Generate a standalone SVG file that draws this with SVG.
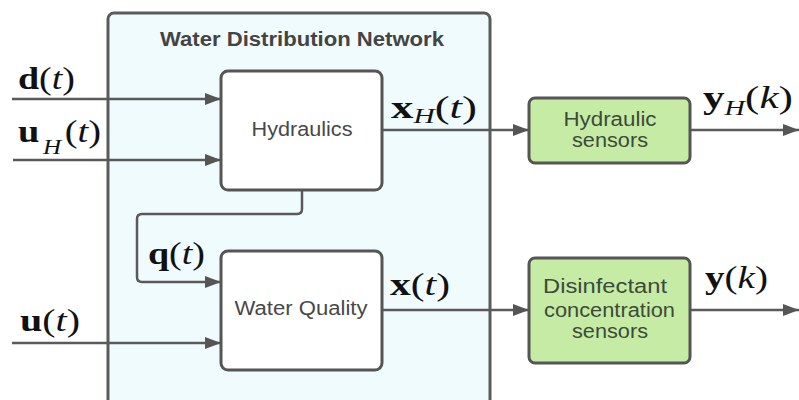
<svg xmlns="http://www.w3.org/2000/svg" width="799" height="400" viewBox="0 0 799 400">
<defs>
<marker id="arr" viewBox="0 0 16 12" refX="16" refY="6" markerWidth="16" markerHeight="12" markerUnits="userSpaceOnUse" orient="auto">
<path d="M0,0 L16,6 L0,12 Z" fill="#555"/>
</marker>
<style>
.wire{fill:none;stroke:#5a5a5a;stroke-width:2.5;stroke-linejoin:round}
.blk{fill:#fff;stroke:#555;stroke-width:3}
.sen{fill:#c6eba4;stroke:#555;stroke-width:3}
.lbl{font-family:"Liberation Sans",Arial,sans-serif;font-size:20px;fill:#484848;text-anchor:middle}
.slbl{font-family:"Liberation Sans",Arial,sans-serif;font-size:20px;fill:#3d4a3a;text-anchor:middle}
.math{font-family:"Liberation Serif","Times New Roman",serif;font-size:32px;fill:#111}
.b{font-weight:bold;font-style:normal}
.i{font-style:italic;font-weight:normal}
</style>
</defs>
<rect width="799" height="400" fill="#fff"/>
<g id="network">
<rect x="108" y="13" width="382" height="420" rx="6" fill="#f0fbfe" stroke="#5a5a5a" stroke-width="3"/>
<text x="160" y="46" textLength="284" lengthAdjust="spacingAndGlyphs" font-family="Liberation Sans,Arial,sans-serif" font-size="19.5" font-weight="bold" fill="#444">Water Distribution Network</text>
</g>
<g id="connectors">
<line class="wire" x1="12" y1="99" x2="221" y2="99" marker-end="url(#arr)"/>
<line class="wire" x1="13" y1="160" x2="221" y2="160" marker-end="url(#arr)"/>
<line class="wire" x1="12" y1="343" x2="221" y2="343" marker-end="url(#arr)"/>
<path class="wire" d="M302,190 V209 Q302,214 297,214 H142 Q137,214 137,219 V277 Q137,282 142,282 H221" marker-end="url(#arr)"/>
<line class="wire" x1="382" y1="130" x2="529" y2="130" marker-end="url(#arr)"/>
<line class="wire" x1="382" y1="310" x2="529" y2="310" marker-end="url(#arr)"/>
<line class="wire" x1="690" y1="130" x2="799" y2="130" marker-end="url(#arr)"/>
<line class="wire" x1="690" y1="310" x2="799" y2="310" marker-end="url(#arr)"/>
</g>
<g id="hydraulics">
<rect class="blk" x="221" y="71" width="161" height="119" rx="7"/>
<text class="lbl" x="302" y="136" textLength="101" lengthAdjust="spacingAndGlyphs">Hydraulics</text>
</g>
<g id="water-quality">
<rect class="blk" x="221" y="251" width="161" height="119" rx="7"/>
<text class="lbl" x="301" y="315" textLength="133" lengthAdjust="spacingAndGlyphs">Water Quality</text>
</g>
<g id="hydraulic-sensors">
<rect class="sen" x="529" y="98" width="161" height="65" rx="6"/>
<text class="slbl" x="610" y="126" textLength="93" lengthAdjust="spacingAndGlyphs">Hydraulic</text>
<text class="slbl" x="610" y="147" textLength="76" lengthAdjust="spacingAndGlyphs">sensors</text>
</g>
<g id="disinfectant-sensors">
<rect class="sen" x="529" y="258" width="161" height="105" rx="6"/>
<text class="slbl" x="605" y="293" textLength="124" lengthAdjust="spacingAndGlyphs">Disinfectant</text>
<text class="slbl" x="609.5" y="317" textLength="131" lengthAdjust="spacingAndGlyphs">concentration</text>
<text class="slbl" x="610" y="338" textLength="76" lengthAdjust="spacingAndGlyphs">sensors</text>
</g>
<g id="labels">
<text class="math" x="18" y="89" textLength="57" lengthAdjust="spacingAndGlyphs"><tspan class="b">d</tspan><tspan>(</tspan><tspan class="i">t</tspan><tspan>)</tspan></text>
<text class="math" x="18" y="142" textLength="83" lengthAdjust="spacingAndGlyphs"><tspan class="b">u</tspan><tspan class="i" font-size="21" dx="3" dy="12">H</tspan><tspan dx="3" dy="-12">(</tspan><tspan class="i">t</tspan><tspan>)</tspan></text>
<text class="math" x="148" y="264" textLength="57" lengthAdjust="spacingAndGlyphs"><tspan class="b">q</tspan><tspan>(</tspan><tspan class="i">t</tspan><tspan>)</tspan></text>
<text class="math" x="20" y="331" textLength="60" lengthAdjust="spacingAndGlyphs"><tspan class="b">u</tspan><tspan>(</tspan><tspan class="i">t</tspan><tspan>)</tspan></text>
<text class="math" x="391" y="118" textLength="86" lengthAdjust="spacingAndGlyphs"><tspan class="b">x</tspan><tspan class="i" font-size="21" dy="5">H</tspan><tspan dy="-5">(</tspan><tspan class="i">t</tspan><tspan>)</tspan></text>
<text class="math" x="390" y="295" textLength="60" lengthAdjust="spacingAndGlyphs"><tspan class="b">x</tspan><tspan>(</tspan><tspan class="i">t</tspan><tspan>)</tspan></text>
<text class="math" x="703" y="108" textLength="90" lengthAdjust="spacingAndGlyphs"><tspan class="b">y</tspan><tspan class="i" font-size="21" dy="7">H</tspan><tspan dy="-7">(</tspan><tspan class="i">k</tspan><tspan>)</tspan></text>
<text class="math" x="705" y="288" textLength="63" lengthAdjust="spacingAndGlyphs"><tspan class="b">y</tspan><tspan>(</tspan><tspan class="i">k</tspan><tspan>)</tspan></text>
</g>
</svg>
